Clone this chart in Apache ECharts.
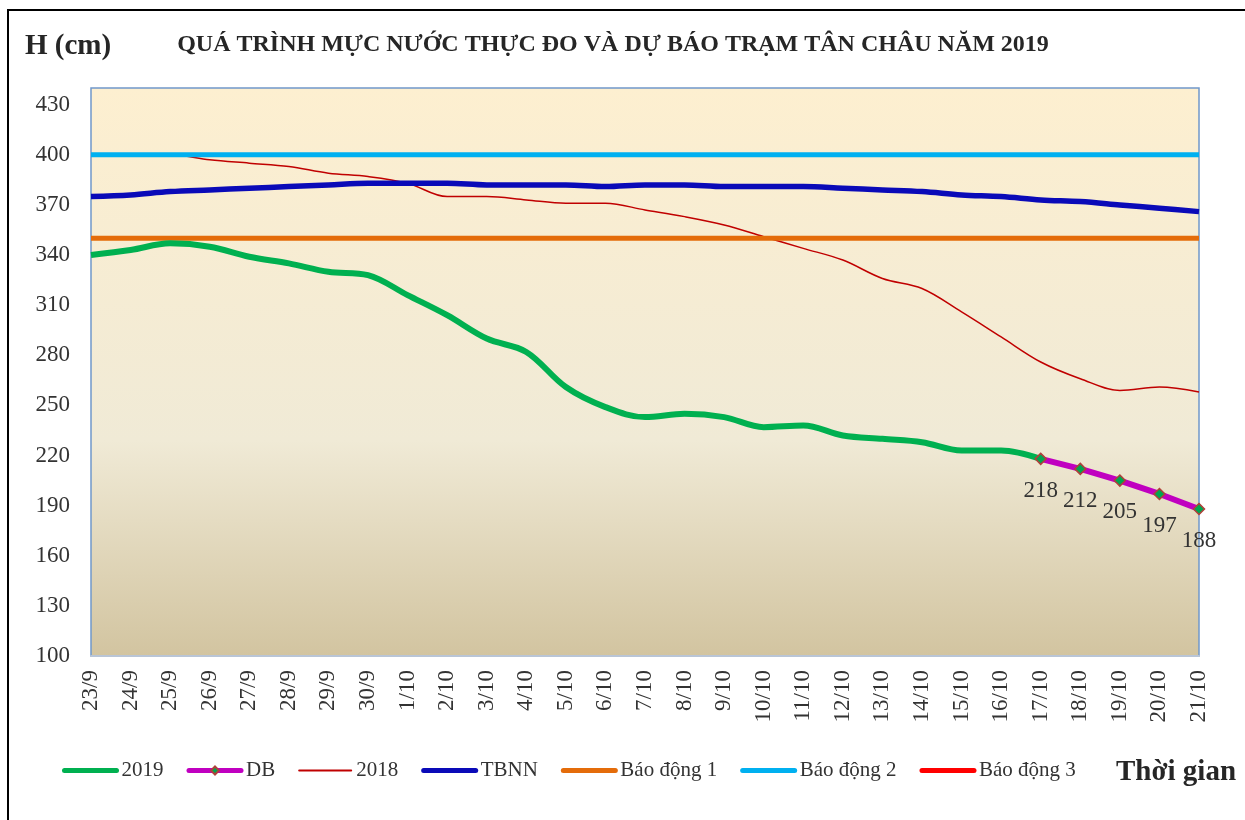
<!DOCTYPE html>
<html>
<head>
<meta charset="utf-8">
<script src="https://cdn.jsdelivr.net/npm/echarts@6/dist/echarts.min.js"></script>
<style>
html,body{margin:0;padding:0;background:#fff;}
#chart{width:1245px;height:820px;}
</style>
</head>
<body>
<div id="chart"></div>
<script>
const categories = ['23/9','24/9','25/9','26/9','27/9','28/9','29/9','30/9','1/10','2/10','3/10','4/10','5/10','6/10','7/10','8/10','9/10','10/10','11/10','12/10','13/10','14/10','15/10','16/10','17/10','18/10','19/10','20/10','21/10'];
const yTicks = [100,130,160,190,220,250,280,310,340,370,400,430];
const h2019 = [340,343,347,345,339,335,330,328,316,304,290,282,261,249,243,245,243,237,238,232,230,228,223,223,218];
const dbDates = ['17/10','18/10','19/10','20/10','21/10'];
const dbValues = [218,212,205,197,188];
const h2018 = [400,400,400,397,395,393,389,387,383,375,375,373,371,371,367,363,358,351,344,337,326,320,306,291,276,266,259,261,258];
const tbnn = [375,376,378,379,380,381,382,383,383,383,382,382,382,381,382,382,381,381,381,380,379,378,376,375,373,372,370,368,366];
const baoDong1 = 350;
const baoDong2 = 400;
const baoDong3 = 450;

const serif = '"Liberation Serif","DejaVu Serif",serif';
const dbData = categories.map(c => { const k = dbDates.indexOf(c); return k >= 0 ? dbValues[k] : '-'; });
const flat = v => categories.map(() => v);
const legendLine = (name, w) => ({ name, itemStyle: { opacity: 0 }, lineStyle: { width: w, cap: 'round' } });

const chart = echarts.init(document.getElementById('chart'));
chart.setOption({
  animation: false,
  backgroundColor: '#fff',
  graphic: [
    { type: 'rect', shape: { x: 8, y: 10, width: 1400, height: 1000 }, style: { fill: 'none', stroke: '#000', lineWidth: 2 }, silent: true, z: 100 },
    { type: 'text', left: 25, top: 32, style: { text: 'H (cm)', font: 'bold 29px ' + serif, fill: '#262626' } },
    { type: 'text', left: 1116, top: 758, style: { text: 'Thời gian', font: 'bold 29px ' + serif, fill: '#262626' } }
  ],
  title: {
    text: 'QUÁ TRÌNH MỰC NƯỚC THỰC ĐO VÀ DỰ BÁO TRẠM TÂN CHÂU NĂM 2019',
    left: 608, top: 28, textAlign: 'center',
    textStyle: { fontFamily: serif, fontWeight: 'bold', fontSize: 24, color: '#262626' }
  },
  legend: {
    left: 57, top: 755, itemWidth: 52, itemHeight: 10, itemGap: 23,
    data: [
      legendLine('2019', 5),
      { name: 'DB', lineStyle: { width: 5, cap: 'round' } },
      legendLine('2018', 2),
      legendLine('TBNN', 5),
      legendLine('Báo động 1', 5),
      legendLine('Báo động 2', 5),
      legendLine('Báo động 3', 5)
    ],
    textStyle: { fontFamily: serif, fontSize: 21, color: '#333' }
  },
  grid: {
    left: 91, top: 88, width: 1108, height: 568, show: true,
    borderColor: '#7098CA', borderWidth: 1.5,
    backgroundColor: { type: 'linear', x: 0, y: 0, x2: 0, y2: 1, colorStops: [
      { offset: 0, color: '#FDEFD0' }, { offset: 0.62, color: '#F0EAD6' }, { offset: 1, color: '#D2C4A0' } ] }
  },
  xAxis: {
    type: 'category', data: categories, boundaryGap: false,
    axisLine: { lineStyle: { color: '#B9C5D6', width: 2 } },
    axisTick: { show: false },
    axisLabel: { rotate: 90, interval: 0, margin: 14, fontFamily: serif, fontSize: 23, color: '#333' }
  },
  yAxis: {
    type: 'value', min: 100, max: 440, interval: 30,
    axisLine: { show: false }, axisTick: { show: false }, splitLine: { show: false },
    axisLabel: { showMaxLabel: false, margin: 21, fontFamily: serif, fontSize: 23, color: '#333',
      formatter: v => yTicks.indexOf(v) >= 0 ? String(v) : '' }
  },
  series: [
    { name: '2019', type: 'line', data: h2019, smooth: 0.35, symbol: 'none', z: 6,
      lineStyle: { color: '#00B050', width: 6 }, itemStyle: { color: '#00B050' } },
    { name: 'DB', type: 'line', data: dbData, symbol: 'diamond', symbolSize: 11, z: 7,
      lineStyle: { color: '#C000C0', width: 6 }, itemStyle: { color: '#00A550', borderColor: '#B0403A', borderWidth: 1.5 },
      label: { show: true, position: 'bottom', distance: 14, fontFamily: serif, fontSize: 23, color: '#333' } },
    { name: '2018', type: 'line', data: h2018, smooth: 0.35, symbol: 'none', z: 2,
      lineStyle: { color: '#C00000', width: 1.5 }, itemStyle: { color: '#C00000' } },
    { name: 'TBNN', type: 'line', data: tbnn, smooth: 0.35, symbol: 'none', z: 3,
      lineStyle: { color: '#0A0AB8', width: 5.5 }, itemStyle: { color: '#0A0AB8' } },
    { name: 'Báo động 1', type: 'line', data: flat(baoDong1), symbol: 'none', z: 4,
      lineStyle: { color: '#E46C0A', width: 5 }, itemStyle: { color: '#E46C0A' } },
    { name: 'Báo động 2', type: 'line', data: flat(baoDong2), symbol: 'none', z: 4,
      lineStyle: { color: '#00B0F0', width: 5 }, itemStyle: { color: '#00B0F0' } },
    { name: 'Báo động 3', type: 'line', data: flat(baoDong3), symbol: 'none', z: 4,
      lineStyle: { color: '#FF0000', width: 5 }, itemStyle: { color: '#FF0000' } }
  ]
});
</script>
</body>
</html>
